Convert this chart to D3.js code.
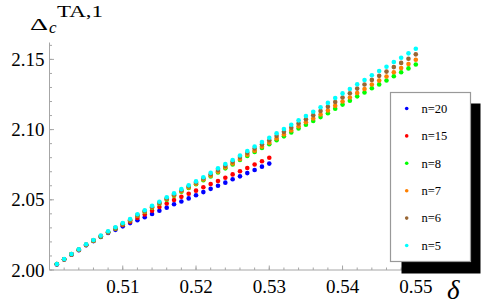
<!DOCTYPE html>
<html>
<head>
<meta charset="utf-8">
<script src="https://cdn.jsdelivr.net/npm/d3@7"></script>
<style>
  body { margin: 0; background: #fff; }
  svg { display: block; }
  text { font-family: 'Liberation Serif', 'Times New Roman', serif; }
</style>
</head>
<body>
<svg id="svg" width="491" height="307"></svg>
<script>
//Data
const DELTA_LONG = d3.range(50).map(i => +(0.501 + i * 0.001).toFixed(3));
const DELTA_SHORT = DELTA_LONG.slice(0, 30);

const N20 = [2.0040, 2.0074, 2.0109, 2.0141, 2.0176, 2.0206, 2.0235, 2.0263, 2.0286, 2.0311,
             2.0334, 2.0354, 2.0376, 2.0399, 2.0422, 2.0444, 2.0468, 2.0488, 2.0510, 2.0532,
             2.0555, 2.0578, 2.0600, 2.0622, 2.0646, 2.0667, 2.0690, 2.0712, 2.0736, 2.0758];
const N15 = [2.0041, 2.0076, 2.0111, 2.0143, 2.0178, 2.0209, 2.0239, 2.0268, 2.0293, 2.0320,
             2.0343, 2.0371, 2.0395, 2.0422, 2.0449, 2.0474, 2.0499, 2.0521, 2.0543, 2.0565,
             2.0589, 2.0613, 2.0634, 2.0657, 2.0681, 2.0703, 2.0727, 2.0751, 2.0775, 2.0799];
const N8 = [2.0042, 2.0077, 2.0112, 2.0144, 2.0179, 2.0209, 2.0239, 2.0269, 2.0296, 2.0326,
            2.0353, 2.0386, 2.0413, 2.0444, 2.0471, 2.0501, 2.0528, 2.0557, 2.0584, 2.0611,
            2.0640, 2.0666, 2.0695, 2.0724, 2.0752, 2.0783, 2.0812, 2.0841, 2.0869, 2.0896,
            2.0925, 2.0952, 2.0980, 2.1008, 2.1035, 2.1061, 2.1089, 2.1116, 2.1148, 2.1178,
            2.1206, 2.1237, 2.1264, 2.1295, 2.1322, 2.1350, 2.1380, 2.1408, 2.1436, 2.1464];
const N7 = [2.0043, 2.0077, 2.0112, 2.0144, 2.0179, 2.0209, 2.0240, 2.0270, 2.0297, 2.0327,
            2.0354, 2.0387, 2.0415, 2.0446, 2.0473, 2.0504, 2.0531, 2.0561, 2.0588, 2.0615,
            2.0645, 2.0672, 2.0701, 2.0731, 2.0759, 2.0790, 2.0821, 2.0850, 2.0879, 2.0907,
            2.0937, 2.0965, 2.0994, 2.1023, 2.1052, 2.1079, 2.1108, 2.1136, 2.1169, 2.1200,
            2.1229, 2.1261, 2.1289, 2.1321, 2.1349, 2.1378, 2.1409, 2.1438, 2.1467, 2.1497];
const N6 = [2.0043, 2.0077, 2.0113, 2.0145, 2.0181, 2.0211, 2.0242, 2.0272, 2.0300, 2.0330,
            2.0358, 2.0391, 2.0420, 2.0451, 2.0479, 2.0510, 2.0538, 2.0568, 2.0596, 2.0624,
            2.0654, 2.0682, 2.0712, 2.0742, 2.0772, 2.0804, 2.0835, 2.0865, 2.0895, 2.0924,
            2.0955, 2.0984, 2.1014, 2.1044, 2.1074, 2.1103, 2.1133, 2.1163, 2.1197, 2.1229,
            2.1259, 2.1292, 2.1321, 2.1354, 2.1383, 2.1413, 2.1445, 2.1475, 2.1505, 2.1536];
const N5 = [2.0043, 2.0078, 2.0114, 2.0147, 2.0183, 2.0214, 2.0245, 2.0276, 2.0304, 2.0335,
            2.0363, 2.0397, 2.0426, 2.0458, 2.0486, 2.0518, 2.0546, 2.0576, 2.0603, 2.0631,
            2.0661, 2.0692, 2.0724, 2.0755, 2.0784, 2.0816, 2.0848, 2.0880, 2.0911, 2.0942,
            2.0974, 2.1004, 2.1035, 2.1066, 2.1097, 2.1127, 2.1159, 2.1190, 2.1225, 2.1258,
            2.1289, 2.1323, 2.1353, 2.1387, 2.1417, 2.1448, 2.1481, 2.1512, 2.1543, 2.1576];

const LABELS = ["n=20", "n=15", "n=8", "n=7", "n=6", "n=5"];
const COLORS = ["#0000ff", "#ff0000", "#00ff00", "#ff8000", "#996633", "#00ffff"];
const X_TICKS = [0.51, 0.52, 0.53, 0.54, 0.55];
const Y_TICKS = [2.00, 2.05, 2.10, 2.15];

const series = [
  {x: DELTA_SHORT, y: N20}, {x: DELTA_SHORT, y: N15}, {x: DELTA_LONG, y: N8},
  {x: DELTA_LONG, y: N7}, {x: DELTA_LONG, y: N6}, {x: DELTA_LONG, y: N5}
];

const svg = d3.select("#svg");
const AXIS_GRAY = "#a6a6a6";

//Scales
const x = d3.scaleLinear().domain([0.50, 0.55]).range([49.5, 415.8]);
const y = d3.scaleLinear().domain([2.00, 2.15]).range([270, 59.4]);

//Y axis
const yAxis = svg.append("g").attr("transform", "translate(49.5,0)");
yAxis.append("line").attr("y1", 270).attr("y2", 42.5).attr("stroke", AXIS_GRAY);
yAxis.selectAll(".ymin").data(d3.range(2.00, 2.161, 0.01)).enter().append("line")
  .attr("x1", 0).attr("x2", 2.5).attr("y1", d => y(d)).attr("y2", d => y(d))
  .attr("stroke", AXIS_GRAY);
yAxis.selectAll(".ymaj").data(Y_TICKS).enter().append("line")
  .attr("x1", 0).attr("x2", 4.5).attr("y1", d => y(d)).attr("y2", d => y(d))
  .attr("stroke", AXIS_GRAY);
yAxis.selectAll("text").data(Y_TICKS).enter().append("text")
  .attr("x", -5).attr("y", d => y(d) + 6.5)
  .attr("text-anchor", "end").attr("font-size", 19)
  .text(d => d.toFixed(2));

//X axis
const xAxis = svg.append("g").attr("transform", "translate(0,270)");
xAxis.append("line").attr("x1", 49.5).attr("x2", 425).attr("stroke", AXIS_GRAY);
xAxis.selectAll(".xmin").data(d3.range(0.502, 0.5505, 0.002)).enter().append("line")
  .attr("x1", d => x(d)).attr("x2", d => x(d)).attr("y1", 0).attr("y2", -2.5)
  .attr("stroke", AXIS_GRAY);
xAxis.selectAll(".xmaj").data(X_TICKS).enter().append("line")
  .attr("x1", d => x(d)).attr("x2", d => x(d)).attr("y1", 0).attr("y2", -4.5)
  .attr("stroke", AXIS_GRAY);
xAxis.selectAll("text").data(X_TICKS).enter().append("text")
  .attr("x", d => x(d)).attr("y", 22.5)
  .attr("text-anchor", "middle").attr("font-size", 19)
  .text(d => d.toFixed(2));

//Axis labels
svg.append("text").attr("x", 30).attr("y", 29.5).attr("font-size", 17)
  .attr("textLength", 18).attr("lengthAdjust", "spacingAndGlyphs").text("\u0394");
svg.append("text").attr("x", 49).attr("y", 32.5).attr("font-size", 17)
  .attr("font-style", "italic").text("c");
svg.append("text").attr("x", 57).attr("y", 16.5).attr("font-size", 17.5)
  .attr("textLength", 46).attr("lengthAdjust", "spacingAndGlyphs").text("TA,1");
svg.append("text").attr("x", 447).attr("y", 299).attr("font-size", 27)
  .attr("font-style", "italic").text("\u03b4");

//Points
series.forEach((s, k) => {
  svg.append("g").selectAll("circle").data(s.y).enter().append("circle")
    .attr("cx", (d, i) => x(s.x[i]))
    .attr("cy", d => y(d))
    .attr("r", 2.3)
    .attr("fill", COLORS[k]);
});

//Legend
svg.append("rect").attr("x", 401.5).attr("y", 103.5).attr("width", 79).attr("height", 170)
  .attr("fill", "#000");
svg.append("rect").attr("x", 390.5).attr("y", 92.5).attr("width", 80).attr("height", 169)
  .attr("fill", "#fff").attr("stroke", "#999").attr("stroke-width", 1.2);
const leg = svg.append("g").selectAll("g").data(LABELS).enter().append("g")
  .attr("transform", (d, i) => "translate(0," + (108.5 + i * 27.4) + ")");
leg.append("circle").attr("cx", 406.7).attr("cy", 0).attr("r", 1.8)
  .attr("fill", (d, i) => COLORS[i]);
leg.append("text").attr("x", 421.5).attr("y", 4.3).attr("font-size", 12.5).text(d => d);
</script>
</body>
</html>
